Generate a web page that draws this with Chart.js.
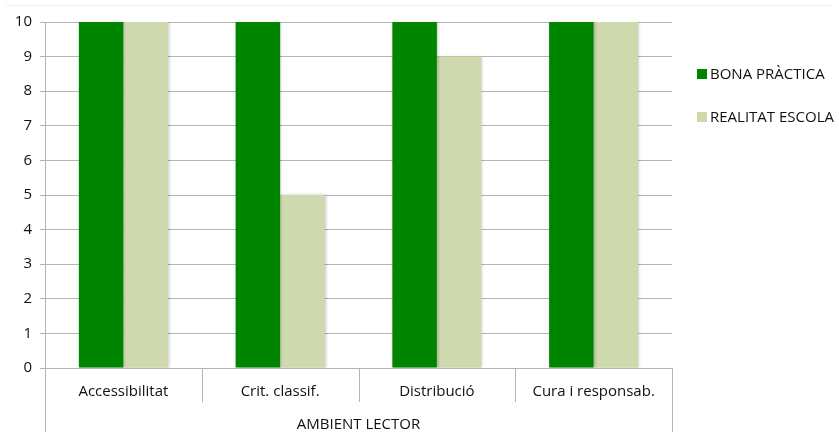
<!DOCTYPE html>
<html>
<head>
<meta charset="utf-8">
<script src="https://cdn.jsdelivr.net/npm/chart.js@4/dist/chart.umd.min.js"></script>
<style>
  html, body { margin: 0; padding: 0; background: #fff; }
  #wrap { width: 839px; height: 432px; position: relative; }
</style>
</head>
<body>
<div id="wrap"><canvas id="c" width="839" height="432"></canvas></div>
<script>
const categories = ['Accessibilitat', 'Crit. classif.', 'Distribució', 'Cura i responsab.'];
const groupLabel = 'AMBIENT LECTOR';
const seriesNames = ['BONA PRÀCTICA', 'REALITAT ESCOLA'];
const bonaPractica = [10, 10, 10, 10];
const realitatEscola = [10, 5, 9, 10];
const yTicks = [0, 1, 2, 3, 4, 5, 6, 7, 8, 9, 10];

const FONT = "'Open Sans', sans-serif";
const GRID = '#b4b4b4';

// Category separators, outer frame lines and the group label under the axis
const axisDecor = {
  id: 'axisDecor',
  afterDraw(chart) {
    const ctx = chart.ctx;
    const x = chart.scales.x;
    const area = chart.chartArea;
    const n = categories.length;
    const step = (area.right - area.left) / n;
    ctx.save();
    // faint frame line at the top
    ctx.strokeStyle = '#eeeeee';
    ctx.lineWidth = 1;
    ctx.beginPath();
    ctx.moveTo(6, 5.5); ctx.lineTo(833, 5.5);
    ctx.stroke();

    ctx.strokeStyle = GRID;
    ctx.beginPath();
    for (let i = 1; i < n; i++) {
      const px = Math.round(area.left + step * i) + 0.5;
      ctx.moveTo(px, area.bottom);
      ctx.lineTo(px, area.bottom + 34);
    }
    ctx.moveTo(Math.round(area.left) + 0.5, area.bottom);
    ctx.lineTo(Math.round(area.left) + 0.5, chart.height);
    ctx.moveTo(Math.round(area.right) + 0.5, area.bottom);
    ctx.lineTo(Math.round(area.right) + 0.5, chart.height);
    ctx.stroke();

    ctx.fillStyle = '#111111';
    ctx.font = '15px ' + FONT;
    ctx.textAlign = 'center';
    ctx.textBaseline = 'middle';
    categories.forEach((c, i) => {
      ctx.fillText(c, x.getPixelForValue(i), area.bottom + 24);
    });
    ctx.fillText(groupLabel, (area.left + area.right) / 2, area.bottom + 57);

    // legend
    ctx.textAlign = 'left';
    chart.data.datasets.forEach((ds, i) => {
      const ly = 74 + i * 43;
      ctx.fillStyle = ds.backgroundColor;
      ctx.fillRect(697, ly - 5, 10, 10);
      ctx.fillStyle = '#111111';
      ctx.fillText(ds.label, 710, ly + 1);
    });
    ctx.restore();
  }
};

// soft shadow on the bars
const barShadow = {
  id: 'barShadow',
  beforeDatasetsDraw(chart) {
    const ctx = chart.ctx;
    ctx.save();
    ctx.shadowColor = 'rgba(0,0,0,0.22)';
    ctx.shadowBlur = 3;
    ctx.shadowOffsetX = 1;
    ctx.shadowOffsetY = 0;
  },
  afterDatasetsDraw(chart) {
    chart.ctx.restore();
  }
};

new Chart(document.getElementById('c'), {
  type: 'bar',
  data: {
    labels: categories,
    datasets: [
      { label: seriesNames[0], data: bonaPractica, backgroundColor: '#008500' },
      { label: seriesNames[1], data: realitatEscola, backgroundColor: '#ced9ad' }
    ]
  },
  options: {
    responsive: false,
    animation: false,
    devicePixelRatio: 1,
    layout: { padding: { top: 22, right: 167, bottom: 64, left: 0 } },
    plugins: { legend: { display: false }, tooltip: { enabled: false } },
    datasets: { bar: { categoryPercentage: 0.568, barPercentage: 1.0 } },
    scales: {
      x: {
        offset: true,
        ticks: { display: false },
        grid: { display: false },
        border: { display: false },
        afterFit(s) { s.height = 0; }
      },
      y: {
        min: 0, max: 10,
        afterBuildTicks(s) { s.ticks = yTicks.map(v => ({ value: v })); },
        afterFit(s) { s.width = 45; },
        ticks: { color: '#111111', font: { family: FONT, size: 15 }, padding: 8 },
        grid: { color: GRID, tickLength: 5, drawTicks: true },
        border: { color: GRID }
      }
    }
  },
  plugins: [axisDecor, barShadow]
});
</script>
</body>
</html>
